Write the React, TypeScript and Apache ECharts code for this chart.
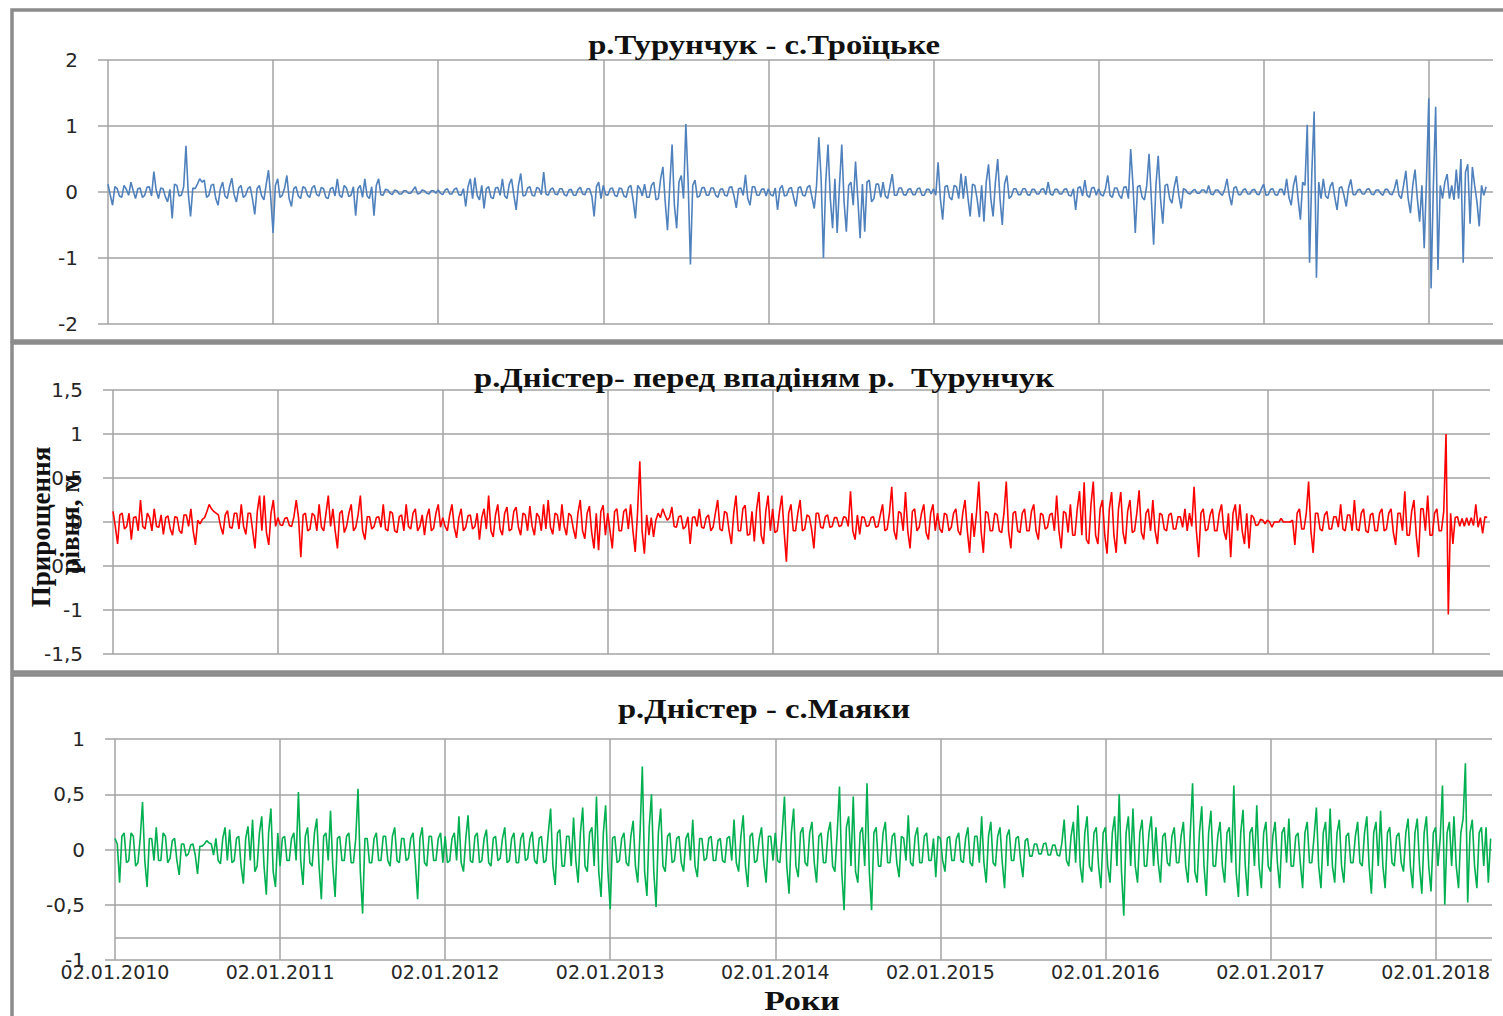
import React, { useEffect, useRef } from 'react';
import * as echarts from 'echarts';

// ---- tick labels ----
const yearLabels = [
  '02.01.2010', '02.01.2011', '02.01.2012', '02.01.2013', '02.01.2014',
  '02.01.2015', '02.01.2016', '02.01.2017', '02.01.2018',
];
const samplesPerYear = 72; // one reading about every 5 days

// ---- titles ----
const titleTurunchuk = 'р.Турунчук - с.Троїцьке';
const titleDnister = 'р.Дністер- перед впадіням р.  Турунчук';
const titleMayaky = 'р.Дністер - с.Маяки';
const yTitleLine1 = 'Прирощення';
const yTitleLine2 = 'рівня, м';
const xTitle = 'Роки';

// ---- р.Турунчук - с.Троїцьке (m) ----
const turunchuk2010 = [
  0.12, -0.05, -0.2, 0.08, 0.05, -0.06, -0.08, 0.1, 0.04, -0.05, 0.15, 0.02,
  -0.1, 0.05, 0.06, -0.08, -0.05, 0.07, 0.08, -0.06, 0.31, 0.03, -0.1, 0.06,
  0.05, -0.07, -0.15, 0.04, -0.4, 0.12, 0.1, -0.06, -0.05, 0.08, 0.7, -0.02,
  -0.37, 0.06, 0.05, 0.12, 0.2, 0.15, 0.18, -0.08, -0.05, 0.1, 0.12, -0.1,
  -0.2, 0.05, 0.15, -0.06, -0.1, 0.08, 0.21, -0.04, -0.15, 0.06, 0.1, -0.08,
  -0.05, 0.05, 0.08, -0.1, -0.34, 0.05, 0.1, -0.06, -0.12, 0.12, 0.33, -0.1,
];
const turunchuk2011 = [
  -0.62, 0.1, 0.2, -0.08, -0.05, 0.06, 0.25, -0.1, -0.22, 0.05, 0.08, -0.06,
  -0.1, 0.08, 0.06, -0.05, -0.08, 0.06, 0.1, -0.04, -0.06, 0.07, 0.05, -0.08,
  -0.1, 0.05, 0.07, -0.06, 0.2, -0.05, -0.08, 0.1, 0.06, -0.07, -0.05, 0.08,
  -0.36, 0.05, 0.1, -0.08, 0.2, -0.06, -0.1, 0.08, -0.36, 0.1, 0.2, -0.04,
  -0.05, 0.04, 0.03, -0.02, -0.04, 0.03, 0.02, -0.03, -0.03, 0.02, 0.02, -0.02,
  -0.02, 0.03, 0.08, -0.03, -0.02, 0.03, 0.02, -0.02, -0.03, 0.02, 0.02, -0.02,
];
const turunchuk2012 = [
  0.03, -0.02, -0.04, 0.03, 0.05, -0.03, -0.03, 0.04, 0.06, -0.04, -0.05, 0.05,
  -0.22, 0.08, 0.2, -0.1, 0.22, -0.05, -0.12, 0.1, -0.25, 0.05, 0.08, -0.08,
  -0.1, 0.06, 0.07, -0.05, 0.2, -0.06, -0.1, 0.12, 0.2, -0.05, -0.27, 0.1,
  0.28, -0.06, -0.05, 0.06, 0.08, -0.05, -0.06, 0.07, 0.05, -0.04, 0.3, -0.03,
  -0.05, 0.04, 0.06, -0.03, -0.04, 0.05, 0.05, -0.04, -0.06, 0.03, 0.04, -0.05,
  -0.05, 0.04, 0.07, -0.03, -0.04, 0.05, 0.05, -0.06, -0.37, 0.08, 0.15, -0.1,
];
const turunchuk2013 = [
  0.1, -0.04, -0.05, 0.05, 0.06, -0.05, -0.07, 0.06, 0.05, -0.06, -0.08, 0.07,
  0.1, -0.12, -0.4, 0.1, 0.05, -0.06, 0.12, -0.08, -0.08, 0.1, 0.15, -0.12,
  -0.1, 0.2, 0.38, -0.15, -0.58, 0.1, 0.72, -0.2, -0.55, 0.15, 0.25, -0.1,
  1.03, 0.15, -1.1, 0.1, 0.18, -0.08, -0.06, 0.06, 0.07, -0.05, -0.05, 0.06,
  0.06, -0.05, -0.08, 0.04, 0.05, -0.05, -0.06, 0.07, 0.08, -0.06, -0.24, 0.05,
  0.06, -0.05, 0.26, -0.1, -0.2, 0.08, 0.08, -0.05, -0.05, 0.04, 0.05, -0.06,
];
const turunchuk2014 = [
  0.05, -0.04, -0.06, 0.06, -0.27, 0.05, 0.1, -0.06, -0.05, 0.05, 0.07, -0.08,
  -0.22, 0.06, 0.08, -0.05, -0.06, 0.07, 0.1, -0.08, -0.25, 0.1, 0.83, 0.2,
  -1.0, 0.15, 0.72, -0.1, -0.55, 0.2, -0.62, 0.1, 0.72, -0.15, -0.6, 0.1,
  0.15, -0.2, 0.46, -0.1, -0.7, 0.12, -0.6, 0.15, 0.18, -0.15, -0.1, 0.12,
  0.12, -0.08, 0.15, -0.06, -0.1, 0.08, 0.27, -0.05, -0.05, 0.06, 0.06, -0.04,
  -0.05, 0.04, 0.05, -0.04, -0.04, 0.05, 0.06, -0.05, -0.05, 0.04, 0.04, -0.03,
];
const turunchuk2015 = [
  0.05, -0.05, 0.45, -0.1, -0.42, 0.08, 0.1, -0.08, -0.12, 0.1, 0.08, -0.1,
  0.28, -0.1, 0.24, -0.08, -0.37, 0.12, 0.1, -0.1, -0.38, 0.1, -0.45, 0.15,
  0.42, -0.1, -0.37, 0.15, 0.5, -0.1, -0.5, 0.12, 0.25, -0.1, -0.06, 0.05,
  0.05, -0.04, -0.04, 0.05, 0.05, -0.04, -0.05, 0.04, 0.04, -0.03, -0.03, 0.04,
  0.05, -0.04, 0.15, -0.03, -0.05, 0.04, 0.04, -0.03, -0.03, 0.04, 0.05, -0.05,
  -0.06, 0.05, -0.27, 0.06, 0.08, -0.06, 0.18, -0.05, -0.08, 0.06, 0.07, -0.05,
];
const turunchuk2016 = [
  0.05, -0.04, -0.06, 0.05, 0.25, -0.05, -0.08, 0.06, 0.06, -0.05, -0.1, 0.07,
  0.08, -0.1, 0.65, 0.1, -0.62, 0.08, 0.1, -0.08, -0.12, 0.1, 0.58, -0.1,
  -0.8, 0.1, 0.55, -0.1, -0.48, 0.1, 0.12, -0.1, -0.17, 0.08, 0.24, -0.05,
  -0.25, 0.05, 0.03, -0.02, -0.03, 0.02, 0.04, -0.02, -0.02, 0.03, 0.03, -0.02,
  0.1, -0.03, -0.04, 0.03, 0.03, -0.02, -0.05, 0.04, 0.2, -0.05, -0.2, 0.06,
  0.08, -0.04, -0.04, 0.03, 0.05, -0.03, -0.03, 0.03, 0.04, -0.03, -0.04, 0.05,
];
const turunchuk2017 = [
  0.12, -0.05, -0.04, 0.04, 0.05, -0.04, -0.05, 0.04, 0.04, -0.05, 0.2, -0.08,
  -0.2, 0.1, 0.25, -0.1, -0.42, 0.15, 0.1, 1.02, -1.07, 0.3, 1.22, -1.3,
  0.15, -0.1, 0.2, -0.06, -0.1, 0.08, 0.15, -0.08, -0.27, 0.06, 0.08, -0.05,
  -0.22, 0.06, 0.19, -0.04, -0.04, 0.03, 0.04, -0.03, -0.03, 0.04, 0.05, -0.03,
  -0.04, 0.03, 0.03, -0.02, -0.05, 0.04, 0.04, -0.03, -0.04, 0.05, 0.19, -0.05,
  -0.1, 0.1, 0.32, -0.1, -0.32, 0.1, 0.34, -0.1, -0.45, 0.1, -0.85, 0.2,
];
const turunchuk2018 = [
  1.42, -1.46, 0.1, 1.29, -1.18, 0.1, -0.1, 0.15, 0.27, -0.1, 0.1, -0.12,
  0.34, -0.1, 0.5, -1.07, 0.3, 0.42, -0.48, 0.38, 0.1, -0.15, -0.52, 0.1,
  -0.05, 0.08,
];

// ---- р.Дністер перед впадінням р.Турунчук (m) ----
const dnister2010 = [
  0.12, -0.05, -0.25, 0.08, 0.1, -0.08, -0.05, 0.1, -0.2, 0.05, 0.06, -0.1,
  0.25, -0.05, -0.08, 0.1, 0.05, -0.1, 0.15, -0.05, -0.06, 0.08, -0.14, 0.05,
  0.07, -0.08, -0.15, 0.06, 0.05, -0.1, -0.13, 0.08, 0.08, -0.05, 0.15, -0.1,
  -0.26, 0.02, -0.02, 0.03, 0.05, 0.12, 0.2, 0.15, 0.12, 0.1, 0.08, -0.05,
  -0.14, 0.08, 0.13, -0.06, -0.07, 0.1, 0.1, -0.08, 0.2, -0.05, -0.14, 0.1,
  0.1, -0.1, -0.3, 0.12, 0.3, -0.1, 0.3, -0.12, -0.26, 0.1, 0.25, -0.05,
];
const dnister2011 = [
  0.05, -0.03, -0.04, 0.04, 0.05, -0.04, -0.05, 0.06, 0.25, 0.05, -0.4, 0.08,
  0.1, -0.1, -0.08, 0.1, 0.07, -0.1, 0.2, -0.06, -0.1, 0.1, 0.3, -0.05,
  0.15, -0.1, -0.3, 0.1, 0.13, -0.12, -0.05, 0.1, 0.2, -0.1, -0.06, 0.08,
  0.3, -0.1, -0.2, 0.06, 0.06, -0.08, -0.05, 0.05, 0.06, -0.06, 0.2, -0.08,
  -0.1, 0.12, 0.1, -0.1, -0.12, 0.06, 0.08, -0.1, 0.2, -0.05, -0.08, 0.1,
  0.15, -0.1, -0.05, 0.08, -0.15, 0.06, 0.15, -0.1, -0.07, 0.1, 0.2, -0.06,
];
const dnister2012 = [
  0.05, -0.05, -0.1, 0.08, 0.2, -0.06, -0.18, 0.05, 0.15, -0.1, -0.06, 0.07,
  0.08, -0.08, -0.05, 0.1, -0.2, 0.05, 0.15, -0.08, 0.3, -0.1, -0.17, 0.08,
  0.2, -0.08, -0.15, 0.1, 0.17, -0.1, -0.08, 0.12, 0.17, -0.06, -0.15, 0.1,
  0.08, -0.1, 0.18, -0.05, -0.15, 0.1, 0.06, -0.1, 0.2, -0.08, 0.25, -0.06,
  -0.14, 0.1, 0.08, -0.1, 0.2, -0.05, -0.15, 0.1, 0.07, -0.08, -0.19, 0.1,
  0.25, -0.1, -0.19, 0.1, 0.18, -0.12, -0.3, 0.1, -0.32, 0.12, 0.19, -0.15,
];
const dnister2013 = [
  0.1, -0.1, -0.3, 0.12, 0.15, -0.1, -0.1, 0.12, 0.15, -0.08, 0.2, -0.1,
  -0.34, 0.1, 0.69, -0.1, -0.36, 0.08, -0.15, 0.05, -0.17, 0.02, 0.1, 0.05,
  0.15, 0.08, 0.02, 0.05, 0.17, -0.05, -0.06, 0.06, 0.07, -0.08, -0.05, 0.06,
  -0.25, 0.05, 0.06, -0.05, 0.15, -0.06, -0.07, 0.05, 0.08, -0.1, -0.06, 0.1,
  0.25, -0.08, -0.1, 0.12, 0.1, -0.1, -0.25, 0.1, 0.3, -0.1, -0.1, 0.15,
  0.19, -0.15, -0.14, 0.12, -0.22, 0.15, 0.34, -0.15, -0.25, 0.12, 0.3, -0.1,
];
const dnister2014 = [
  0.15, -0.12, -0.1, 0.12, 0.3, -0.1, -0.45, 0.1, 0.2, -0.1, -0.1, 0.1,
  0.25, -0.1, -0.08, 0.08, 0.06, -0.08, -0.3, 0.1, 0.1, -0.06, -0.07, 0.06,
  0.08, -0.06, -0.05, 0.05, 0.05, -0.05, -0.04, 0.06, 0.05, -0.05, 0.35, -0.1,
  -0.2, 0.08, -0.14, 0.06, 0.05, -0.05, -0.04, 0.05, 0.06, -0.06, -0.05, 0.08,
  0.2, -0.1, -0.08, 0.1, 0.4, -0.1, -0.2, 0.12, 0.1, -0.1, 0.34, -0.1,
  -0.3, 0.12, 0.15, -0.1, -0.06, 0.1, 0.2, -0.12, -0.2, 0.1, 0.2, -0.1,
];
const dnister2015 = [
  0.1, -0.08, -0.12, 0.1, 0.08, -0.1, -0.06, 0.1, 0.15, -0.1, -0.15, 0.1,
  0.25, -0.1, -0.35, 0.1, -0.17, 0.1, 0.46, -0.1, -0.35, 0.12, 0.1, -0.1,
  -0.1, 0.1, 0.08, -0.1, -0.12, 0.1, 0.46, -0.1, -0.3, 0.1, 0.12, -0.1,
  -0.12, 0.1, 0.15, -0.1, -0.1, 0.12, 0.2, -0.1, -0.2, 0.1, 0.08, -0.08,
  -0.06, 0.08, 0.1, -0.1, 0.3, -0.1, -0.3, 0.12, 0.1, -0.12, 0.2, -0.15,
  -0.15, 0.15, 0.35, -0.15, 0.45, -0.2, -0.25, 0.2, 0.46, -0.15, -0.25, 0.15,
];
const dnister2016 = [
  0.25, -0.15, -0.36, 0.15, 0.34, -0.15, -0.35, 0.15, 0.34, -0.12, -0.25, 0.12,
  0.25, -0.12, -0.1, 0.1, 0.36, -0.12, -0.2, 0.1, 0.15, -0.1, 0.25, -0.1,
  -0.25, 0.1, 0.08, -0.08, -0.1, 0.08, 0.1, -0.08, -0.08, 0.06, 0.06, -0.06,
  0.15, -0.1, 0.1, -0.05, 0.4, -0.1, -0.4, 0.1, 0.15, -0.1, -0.08, 0.08,
  0.15, -0.1, -0.1, 0.1, 0.2, -0.1, -0.2, 0.1, -0.4, 0.1, 0.2, -0.1,
  0.2, -0.1, -0.25, 0.1, -0.3, 0.08, 0.05, -0.04, -0.03, 0.03, 0.02, -0.02,
];
const dnister2017 = [
  0.02, 0, -0.06, 0, 0, 0, 0.04, 0, 0, 0, 0, 0.02,
  -0.26, 0.1, 0.15, -0.08, -0.08, 0.1, 0.46, -0.1, -0.35, 0.1, 0.1, -0.08,
  -0.1, 0.08, 0.12, -0.08, -0.08, 0.06, 0.06, -0.06, 0.2, -0.08, -0.1, 0.08,
  0.08, -0.1, 0.25, -0.08, -0.1, 0.1, 0.15, -0.1, -0.12, 0.08, 0.1, -0.1,
  -0.1, 0.1, 0.15, -0.1, -0.08, 0.1, 0.15, -0.12, -0.26, 0.1, 0.1, -0.1,
  0.35, -0.15, -0.15, 0.12, 0.25, -0.15, -0.4, 0.15, 0.15, -0.1, 0.3, -0.15,
];
const dnister2018 = [
  -0.15, 0.1, 0.15, -0.1, -0.1, 0.12, 1.0, -1.05, 0.1, -0.25, 0.05, 0.06,
  -0.05, 0.04, -0.05, 0.05, -0.04, 0.05, -0.04, 0.2, -0.06, 0.05, -0.13, 0.06,
  0.05,
];

// ---- р.Дністер - с.Маяки (m) ----
const mayaky2010 = [
  0.1, 0.05, -0.3, 0.12, 0.15, -0.12, -0.1, 0.15, 0.12, -0.15, -0.12, 0.1,
  0.43, -0.1, -0.34, 0.1, 0.1, -0.1, 0.2, -0.1, -0.1, 0.15, 0.12, -0.12,
  -0.08, 0.08, 0.1, -0.1, -0.23, 0.05, 0.05, -0.06, -0.04, 0.04, 0.05, -0.05,
  -0.22, 0.03, 0.03, 0.05, 0.08, 0.06, 0.05, -0.05, 0.1, -0.1, -0.13, 0.1,
  0.2, -0.1, 0.18, -0.12, -0.1, 0.1, 0.12, -0.15, -0.31, 0.1, 0.21, -0.1,
  0.27, -0.2, -0.15, 0.15, 0.3, -0.15, -0.41, 0.15, 0.37, -0.2, -0.34, 0.15,
];
const mayaky2011 = [
  -0.15, 0.1, 0.12, -0.1, -0.1, 0.1, 0.15, -0.1, 0.52, -0.1, -0.32, 0.12,
  0.2, -0.12, -0.15, 0.15, 0.28, -0.15, -0.45, 0.12, 0.15, -0.1, 0.35, -0.15,
  -0.43, 0.1, 0.12, -0.1, -0.1, 0.12, 0.15, -0.12, -0.12, 0.1, 0.55, -0.2,
  -0.58, 0.1, 0.1, -0.12, -0.12, 0.1, 0.15, -0.1, -0.1, 0.12, 0.12, -0.1,
  -0.15, 0.12, 0.2, -0.1, -0.12, 0.1, 0.1, -0.1, -0.08, 0.1, 0.15, -0.12,
  -0.45, 0.1, 0.2, -0.12, -0.15, 0.12, 0.12, -0.1, -0.1, 0.1, 0.15, -0.12,
];
const mayaky2012 = [
  0.12, -0.12, -0.1, 0.1, 0.15, -0.1, 0.3, -0.12, -0.2, 0.1, 0.31, -0.1,
  -0.12, 0.12, 0.15, -0.12, -0.1, 0.1, 0.18, -0.12, -0.15, 0.1, 0.12, -0.1,
  -0.08, 0.1, 0.2, -0.12, -0.1, 0.1, 0.15, -0.12, -0.12, 0.1, 0.15, -0.1,
  -0.08, 0.1, 0.16, -0.1, -0.13, 0.1, 0.12, -0.12, -0.1, 0.15, 0.37, -0.15,
  -0.32, 0.15, 0.18, -0.15, -0.15, 0.12, 0.12, -0.15, 0.29, -0.1, -0.3, 0.15,
  0.38, -0.15, -0.2, 0.15, 0.2, -0.15, 0.48, -0.2, -0.43, 0.15, 0.4, -0.2,
];
const mayaky2013 = [
  -0.54, 0.1, 0.12, -0.12, -0.1, 0.1, 0.15, -0.12, -0.15, 0.12, 0.26, -0.15,
  -0.3, 0.15, 0.75, -0.2, -0.42, 0.2, 0.5, -0.2, -0.52, 0.15, 0.37, -0.15,
  -0.2, 0.12, 0.15, -0.12, -0.1, 0.1, 0.12, -0.12, -0.2, 0.1, 0.15, -0.1,
  0.27, -0.15, -0.25, 0.1, 0.1, -0.1, -0.08, 0.1, 0.12, -0.1, -0.1, 0.08,
  0.1, -0.1, -0.12, 0.1, 0.12, -0.1, 0.27, -0.12, -0.2, 0.12, 0.31, -0.15,
  -0.34, 0.12, 0.15, -0.12, -0.1, 0.1, 0.2, -0.12, -0.3, 0.12, 0.12, -0.1,
];
const mayaky2014 = [
  0.15, -0.1, -0.12, 0.15, 0.48, -0.15, -0.4, 0.15, 0.37, -0.15, -0.25, 0.15,
  0.2, -0.12, -0.15, 0.15, 0.25, -0.12, -0.3, 0.12, 0.15, -0.12, -0.12, 0.15,
  0.25, -0.15, -0.2, 0.15, 0.57, -0.2, -0.55, 0.2, 0.3, -0.15, 0.48, -0.2,
  -0.3, 0.15, 0.2, -0.15, 0.6, -0.2, -0.55, 0.15, 0.2, -0.15, -0.15, 0.15,
  0.25, -0.12, -0.12, 0.12, 0.15, -0.12, -0.25, 0.12, 0.1, -0.1, 0.31, -0.12,
  -0.15, 0.12, 0.2, -0.12, -0.12, 0.12, 0.15, -0.1, -0.1, 0.1, -0.25, 0.12,
];
const mayaky2015 = [
  0.1, -0.1, -0.2, 0.1, 0.12, -0.1, -0.1, 0.1, 0.15, -0.1, -0.12, 0.1,
  0.2, -0.12, -0.15, 0.12, 0.12, -0.12, 0.3, -0.12, -0.3, 0.12, 0.25, -0.12,
  -0.15, 0.12, 0.2, -0.12, -0.35, 0.12, 0.18, -0.1, -0.1, 0.1, 0.12, -0.1,
  -0.25, 0.08, 0.1, -0.06, -0.06, 0.05, 0.05, -0.04, -0.04, 0.05, 0.06, -0.05,
  -0.05, 0.04, 0.04, -0.05, -0.06, 0.06, 0.27, -0.1, -0.15, 0.12, 0.25, -0.12,
  0.4, -0.15, -0.3, 0.15, 0.3, -0.15, -0.2, 0.15, 0.2, -0.15, -0.35, 0.15,
];
const mayaky2016 = [
  0.2, -0.15, -0.3, 0.15, 0.3, -0.15, 0.5, -0.2, -0.6, 0.15, 0.3, -0.15,
  0.37, -0.15, -0.3, 0.15, 0.27, -0.15, -0.15, 0.15, 0.3, -0.15, 0.2, -0.12,
  -0.3, 0.12, 0.15, -0.12, -0.15, 0.12, 0.2, -0.12, -0.12, 0.12, 0.25, -0.15,
  -0.3, 0.15, 0.6, -0.2, -0.3, 0.15, 0.39, -0.15, -0.42, 0.15, 0.35, -0.15,
  -0.15, 0.12, 0.25, -0.15, -0.3, 0.15, 0.2, -0.12, 0.58, -0.2, -0.43, 0.15,
  0.36, -0.15, -0.42, 0.15, 0.2, -0.15, 0.4, -0.15, -0.35, 0.15, 0.25, -0.15,
];
const mayaky2017 = [
  -0.2, 0.12, 0.25, -0.12, -0.35, 0.15, 0.2, -0.12, 0.28, -0.15, -0.15, 0.12,
  0.15, -0.12, -0.35, 0.15, 0.25, -0.12, -0.12, 0.12, 0.38, -0.15, -0.35, 0.15,
  0.25, -0.15, 0.37, -0.15, -0.3, 0.15, 0.27, -0.15, -0.3, 0.12, 0.15, -0.12,
  -0.12, 0.12, 0.25, -0.12, -0.15, 0.15, 0.3, -0.15, -0.4, 0.15, 0.25, -0.15,
  0.35, -0.15, -0.35, 0.15, 0.2, -0.12, -0.15, 0.12, 0.15, -0.12, -0.2, 0.15,
  0.28, -0.15, -0.35, 0.15, 0.28, -0.15, -0.4, 0.15, 0.3, -0.15, -0.38, 0.15,
];
const mayaky2018 = [
  0.2, -0.15, 0.1, 0.58, -0.5, 0.15, 0.25, -0.15, 0.3, -0.15, -0.35, 0.15,
  0.28, 0.78, -0.48, 0.15, 0.27, -0.15, -0.35, 0.15, 0.2, -0.15, 0.2, -0.3,
  0.1,
];
const mayakyAxisCross = -0.8; // level where the category axis crosses in the source chart

const turunchuk = [
  ...turunchuk2010, ...turunchuk2011, ...turunchuk2012, ...turunchuk2013, ...turunchuk2014,
  ...turunchuk2015, ...turunchuk2016, ...turunchuk2017, ...turunchuk2018,
];
const dnister = [
  ...dnister2010, ...dnister2011, ...dnister2012, ...dnister2013, ...dnister2014,
  ...dnister2015, ...dnister2016, ...dnister2017, ...dnister2018,
];
const mayaky = [
  ...mayaky2010, ...mayaky2011, ...mayaky2012, ...mayaky2013, ...mayaky2014,
  ...mayaky2015, ...mayaky2016, ...mayaky2017, ...mayaky2018,
];

const GRID = '#a3a3a3';
const FRAME = '#8c8c8c';
const LABEL = '#262626';
const SANS = 'DejaVu Sans';
const SERIF = 'Liberation Serif';

const panels = [
  { left: 108, top: 60, width: 1385, height: 264, min: -2, max: 2, interval: 1, xMax: 604, data: turunchuk, color: '#4f81bd', showX: false },
  { left: 113, top: 390, width: 1377, height: 264, min: -1.5, max: 1.5, interval: 0.5, xMax: 601.2, data: dnister, color: '#ff0000', showX: false },
  { left: 115, top: 739, width: 1377, height: 221, min: -1, max: 1, interval: 0.5, xMax: 600.6, data: mayaky, color: '#00b050', showX: true },
];

function buildOption() {
  const grid = panels.map((p) => ({ left: p.left, top: p.top, width: p.width, height: p.height, containLabel: false }));
  const xAxis = panels.map((p, i) => ({
    type: 'value',
    gridIndex: i,
    min: 0,
    max: p.xMax,
    interval: samplesPerYear,
    axisLine: { show: false },
    axisTick: { show: false },
    axisLabel: {
      show: p.showX,
      showMaxLabel: false,
      margin: 2,
      color: LABEL,
      fontFamily: SANS,
      fontSize: 19,
      formatter: (v: number) => (v % samplesPerYear === 0 ? yearLabels[v / samplesPerYear] || '' : ''),
    },
    splitLine: { show: true, showMaxLine: false, lineStyle: { color: GRID, width: 1.5 } },
  }));
  const yAxis = panels.map((p, i) => ({
    type: 'value',
    gridIndex: i,
    min: p.min,
    max: p.max,
    interval: p.interval,
    axisLine: { show: false },
    axisTick: { show: true, inside: false, length: 10, lineStyle: { color: GRID, width: 1.5 } },
    axisLabel: {
      margin: 30,
      color: LABEL,
      fontFamily: SANS,
      fontSize: 20,
      formatter: (v: number) => String(v).replace('.', ','),
    },
    splitLine: { show: true, lineStyle: { color: GRID, width: 1.5 } },
  }));
  const series: any[] = panels.map((p, i) => ({
    type: 'line',
    xAxisIndex: i,
    yAxisIndex: i,
    data: p.data.map((v, k) => [k, v]),
    showSymbol: false,
    symbol: 'none',
    silent: true,
    lineStyle: { color: p.color, width: 1.6 },
    itemStyle: { color: p.color },
    z: 3,
  }));
  series[2].markLine = {
    silent: true,
    symbol: 'none',
    label: { show: false },
    lineStyle: { color: GRID, width: 1.5, type: 'solid' },
    data: [{ yAxis: mayakyAxisCross }],
    z: 1,
  };

  const frame = (y: number, h: number) => ({
    type: 'rect',
    shape: { x: 12, y, width: 1500, height: h },
    style: { fill: 'none', stroke: FRAME, lineWidth: 3.5 },
    z: 10,
  });
  const title = (text: string, y: number) => ({
    type: 'text',
    x: 764,
    y,
    scaleX: 1.21,
    style: { text, fill: '#111', font: `bold 27px "${SERIF}"`, textAlign: 'center', textVerticalAlign: 'middle' },
    z: 20,
  });

  const graphic = [
    frame(10, 331),
    frame(343, 329),
    frame(675, 400),
    title(titleTurunchuk, 45),
    title(titleDnister, 378),
    title(titleMayaky, 709),
    {
      type: 'text', x: 41, y: 527, rotation: Math.PI / 2,
      style: { text: yTitleLine1, fill: '#111', font: `bold 27px "${SERIF}"`, textAlign: 'center', textVerticalAlign: 'middle' },
      z: 20,
    },
    {
      type: 'text', x: 70, y: 524, rotation: Math.PI / 2,
      style: { text: yTitleLine2, fill: '#111', font: `bold 27px "${SERIF}"`, textAlign: 'center', textVerticalAlign: 'middle' },
      z: 20,
    },
    {
      type: 'text', x: 802, y: 1001, scaleX: 1.25,
      style: { text: xTitle, fill: '#111', font: `bold 27px "${SERIF}"`, textAlign: 'center', textVerticalAlign: 'middle' },
      z: 20,
    },
  ];

  return { animation: false, backgroundColor: '#ffffff', grid, xAxis, yAxis, series, graphic };
}

export default function App() {
  const ref = useRef<HTMLDivElement>(null);
  useEffect(() => {
    if (!ref.current) return;
    const chart = echarts.init(ref.current, undefined, { renderer: 'svg' });
    chart.setOption(buildOption() as any);
    return () => chart.dispose();
  }, []);
  return (
    <div
      ref={ref}
      style={{ position: 'fixed', left: 0, top: 0, width: 1503, height: 1016, background: '#fff' }}
    />
  );
}
